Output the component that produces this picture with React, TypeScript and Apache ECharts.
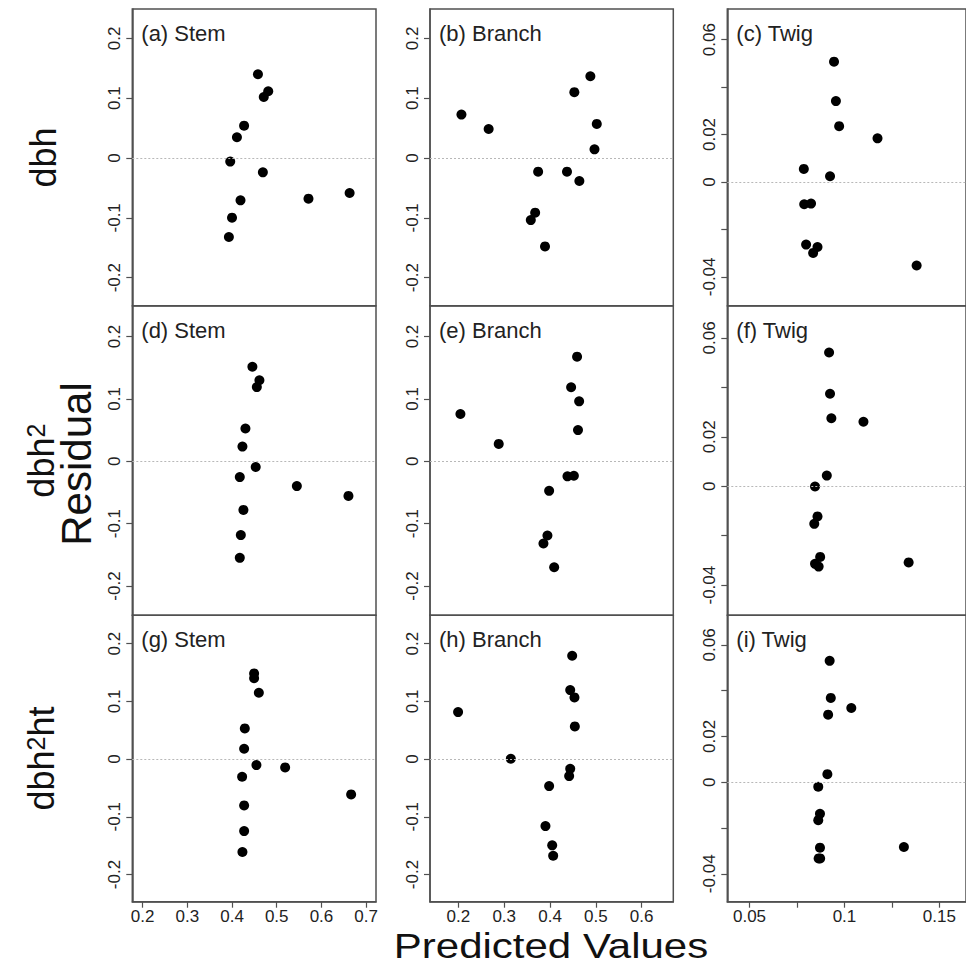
import React, { useEffect, useRef } from "react";
import * as echarts from "echarts";

// ---- data ----
const stemDbhX = [0.458, 0.471, 0.481, 0.427, 0.411, 0.396, 0.469, 0.419, 0.400, 0.393, 0.571, 0.663];
const stemDbhY = [0.140, 0.102, 0.1115, 0.054, 0.0346, -0.006, -0.024, -0.0707, -0.0997, -0.132, -0.068, -0.0585];
const branchDbhX = [0.2066, 0.266, 0.488, 0.453, 0.502, 0.497, 0.374, 0.437, 0.464, 0.3675, 0.358, 0.389];
const branchDbhY = [0.0726, 0.0485, 0.1366, 0.110, 0.057, 0.0145, -0.0228, -0.0228, -0.0385, -0.0913, -0.1037, -0.1477];
const twigDbhX = [0.0945, 0.0955, 0.0972, 0.1174, 0.0786, 0.0924, 0.0788, 0.0824, 0.0798, 0.0858, 0.0835, 0.138];
const twigDbhY = [0.0507, 0.0341, 0.0235, 0.0184, 0.0055, 0.0024, -0.0094, -0.0091, -0.0264, -0.0274, -0.0299, -0.0352];

const stemDbh2X = [0.4456, 0.4613, 0.4555, 0.430, 0.4233, 0.4174, 0.453, 0.545, 0.6604, 0.4255, 0.4197, 0.4174];
const stemDbh2Y = [0.1516, 0.130, 0.119, 0.0526, 0.0235, -0.0253, -0.0092, -0.0398, -0.0555, -0.078, -0.1184, -0.1548];
const branchDbh2X = [0.2044, 0.288, 0.459, 0.446, 0.4635, 0.461, 0.438, 0.452, 0.398, 0.3943, 0.3856, 0.409];
const branchDbh2Y = [0.0758, 0.0279, 0.1677, 0.1187, 0.0961, 0.050, -0.0242, -0.0232, -0.0474, -0.119, -0.1318, -0.170];
const twigDbh2X = [0.0919, 0.0924, 0.0931, 0.110, 0.0907, 0.0845, 0.0858, 0.0841, 0.0872, 0.0845, 0.0864, 0.1338];
const twigDbh2Y = [0.0541, 0.0374, 0.0275, 0.0261, 0.0043, -0.0001, -0.0122, -0.0152, -0.0286, -0.0314, -0.0325, -0.0308];

const stemDbh2htX = [0.4494, 0.4494, 0.46, 0.4286, 0.4271, 0.4546, 0.5188, 0.4226, 0.6664, 0.4271, 0.4271, 0.4233];
const stemDbh2htY = [0.1484, 0.140, 0.1148, 0.0531, 0.0179, -0.0104, -0.0144, -0.0306, -0.0612, -0.0802, -0.1247, -0.161];
const branchDbh2htX = [0.1993, 0.3144, 0.4483, 0.444, 0.4533, 0.4541, 0.444, 0.4417, 0.398, 0.39, 0.4047, 0.4068];
const branchDbh2htY = [0.0814, 0.0005, 0.1789, 0.1195, 0.1068, 0.0566, -0.0168, -0.0294, -0.0468, -0.116, -0.1494, -0.1674];
const twigDbh2htX = [0.0922, 0.0928, 0.1036, 0.0914, 0.091, 0.0862, 0.0871, 0.0862, 0.0871, 0.0864, 0.0872, 0.1313];
const twigDbh2htY = [0.0530, 0.0368, 0.0324, 0.0295, 0.0035, -0.002, -0.0138, -0.0166, -0.0286, -0.0333, -0.0333, -0.0283];

const panelTitles = ["(a) Stem", "(b) Branch", "(c) Twig", "(d) Stem", "(e) Branch", "(f) Twig", "(g) Stem", "(h) Branch", "(i) Twig"];

// axis ranges and ticks per column
const xMins = [0.177, 0.138, 0.0383];
const xMaxs = [0.722, 0.669, 0.164];
const xTicksStem = [0.2, 0.3, 0.4, 0.5, 0.6, 0.7];
const xTicksBranch = [0.2, 0.3, 0.4, 0.5, 0.6];
const xTicksTwig = [0.05, 0.075, 0.1, 0.125, 0.15];
const xLabelsTwig = [0.05, 0.1, 0.15];
const yMinsCol = [-0.247, -0.247, -0.0522];
const yMaxsCol = [0.249, 0.249, 0.0729];
const yTicksWood = [-0.2, -0.1, 0, 0.1, 0.2];
const yTicksTwig = [-0.04, -0.02, 0, 0.02, 0.04, 0.06];
const yLabelsTwig = [-0.04, 0, 0.02, 0.06];

const panelX = [stemDbhX, branchDbhX, twigDbhX, stemDbh2X, branchDbh2X, twigDbh2X, stemDbh2htX, branchDbh2htX, twigDbh2htX];
const panelY = [stemDbhY, branchDbhY, twigDbhY, stemDbh2Y, branchDbh2Y, twigDbh2Y, stemDbh2htY, branchDbh2htY, twigDbh2htY];

// ---- layout ----
const colLeft = [132.3, 430, 727.3];
const colWidth = [243.7, 243.3, 243];
const rowTop = [9, 306, 615.3];
const rowHeight = [296.8, 309.3, 286.4];
const FONT = "Liberation Sans, Arial, sans-serif";
const FRAME = "#505050";

export default function App() {
  const ref = useRef<HTMLDivElement>(null);
  useEffect(() => {
    if (!ref.current) return;
    const chart = echarts.init(ref.current, undefined, { renderer: "svg" });
    const grids: any[] = [];
    const xAxes: any[] = [];
    const yAxes: any[] = [];
    const series: any[] = [];
    const graphics: any[] = [];
    const xTicks = [xTicksStem, xTicksBranch, xTicksTwig];
    const xLabels = [xTicksStem, xTicksBranch, xLabelsTwig];
    for (let r = 0; r < 3; r++) {
      for (let c = 0; c < 3; c++) {
        const i = r * 3 + c;
        grids.push({
          left: colLeft[c],
          top: rowTop[r],
          width: colWidth[c],
          height: rowHeight[r],
          show: true,
          borderColor: FRAME,
          borderWidth: 1.5,
          backgroundColor: "transparent",
          containLabel: false,
        });
        const bottom = r === 2;
        xAxes.push({
          type: "value",
          gridIndex: i,
          position: "bottom",
          min: xMins[c],
          max: xMaxs[c],
          axisLine: { show: bottom, onZero: false, lineStyle: { color: FRAME, width: 1.5 } },
          splitLine: { show: false },
          axisTick: {
            show: bottom,
            inside: false,
            length: 6,
            customValues: xTicks[c],
            lineStyle: { color: FRAME, width: 1.2 },
          },
          axisLabel: {
            show: bottom,
            customValues: xLabels[c],
            margin: 6,
            fontSize: 17,
            lineHeight: 17,
            color: "#222",
            fontFamily: FONT,
            formatter: (v: number) => String(v),
          },
        });
        yAxes.push({
          type: "value",
          gridIndex: i,
          position: "left",
          min: yMinsCol[c],
          max: yMaxsCol[c],
          axisLine: { show: true, onZero: false, lineStyle: { color: FRAME, width: 1.5 } },
          splitLine: { show: false },
          axisTick: {
            show: true,
            length: 6,
            customValues: c === 2 ? yTicksTwig : yTicksWood,
            lineStyle: { color: FRAME, width: 1.2 },
          },
          axisLabel: {
            customValues: c === 2 ? yLabelsTwig : yTicksWood,
            rotate: 90,
            margin: 9,
            fontSize: 17,
            color: "#222",
            fontFamily: FONT,
            formatter: (v: number) => String(v),
          },
        });
        series.push({
          type: "scatter",
          xAxisIndex: i,
          yAxisIndex: i,
          symbol: "circle",
          symbolSize: 10,
          itemStyle: { color: "#000", opacity: 1 },
          data: panelX[i].map((v, j) => [v, panelY[i][j]]),
          markLine: {
            silent: true,
            symbol: ["none", "none"],
            label: { show: false },
            lineStyle: { type: [2, 2], color: "#b8b8b8", width: 1, opacity: 1 },
            data: [{ yAxis: 0 }],
            z: 5,
          },
        });
        graphics.push({
          type: "text",
          x: colLeft[c] + 9,
          y: rowTop[r] + 24,
          style: {
            text: panelTitles[i],
            fontSize: 22,
            fontFamily: FONT,
            fill: "#222",
            align: "left",
            verticalAlign: "middle",
          },
        });
      }
    }
    const rowLabelY = rowTop.map((t, k) => t + rowHeight[k] / 2);
    const rich = {
      m: { fontSize: 36, fontFamily: FONT, fill: "#111", color: "#111", verticalAlign: "bottom" },
      s: { fontSize: 25, fontFamily: FONT, fill: "#111", color: "#111", verticalAlign: "top" },
    };
    graphics.push({
      type: "text",
      x: 43,
      y: rowLabelY[0],
      rotation: Math.PI / 2,
      style: { text: "dbh", fontSize: 36, fontFamily: FONT, fill: "#111", align: "center", verticalAlign: "middle" },
    });
    graphics.push({
      type: "text",
      x: 41,
      y: rowLabelY[1],
      rotation: Math.PI / 2,
      style: { text: "{m|dbh}{s|2}", rich, align: "center", verticalAlign: "middle" },
    });
    graphics.push({
      type: "text",
      x: 41,
      y: rowLabelY[2],
      rotation: Math.PI / 2,
      style: { text: "{m|dbh}{s|2}{m|ht}", rich, align: "center", verticalAlign: "middle" },
    });
    graphics.push({
      type: "text",
      x: 76,
      y: 464,
      rotation: Math.PI / 2,
      style: { text: "Residual", fontSize: 42, fontFamily: FONT, fill: "#111", align: "center", verticalAlign: "middle" },
    });
    graphics.push({
      type: "text",
      x: 551,
      y: 946,
      scaleX: 1.05,
      scaleY: 0.9,
      style: { text: "Predicted Values", fontSize: 40, fontFamily: FONT, fill: "#111", align: "center", verticalAlign: "middle" },
    });

    chart.setOption({
      animation: false,
      backgroundColor: "#fff",
      grid: grids,
      xAxis: xAxes,
      yAxis: yAxes,
      series,
      graphic: graphics,
    });
    return () => chart.dispose();
  }, []);
  return <div ref={ref} style={{ position: "absolute", left: 0, top: 0, width: 966, height: 967 }} />;
}
